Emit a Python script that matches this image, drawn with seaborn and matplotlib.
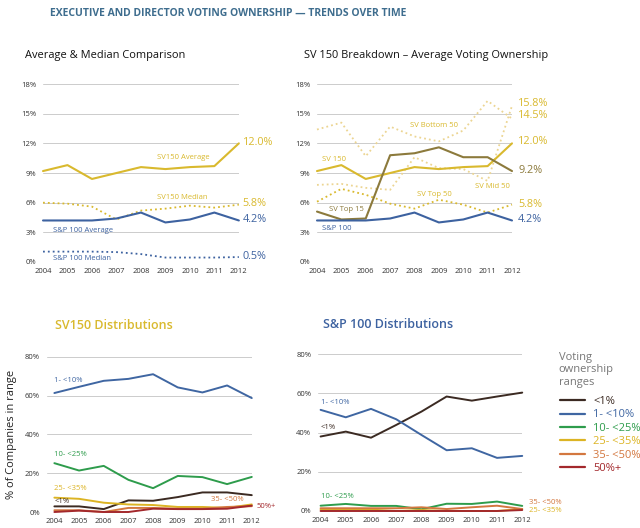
import matplotlib
matplotlib.use("Agg")
import matplotlib.pyplot as plt
import seaborn as sns
import pandas as pd
from matplotlib.lines import Line2D

years = [2004, 2005, 2006, 2007, 2008, 2009, 2010, 2011, 2012]

# top left / top right (voting ownership, %)
sv150_avg = [9.2, 9.8, 8.4, 9.0, 9.6, 9.4, 9.6, 9.7, 12.0]
sv150_med = [6.0, 5.9, 5.6, 4.3, 5.2, 5.4, 5.7, 5.5, 5.8]
sp100_avg = [4.2, 4.2, 4.2, 4.4, 5.0, 4.0, 4.3, 5.0, 4.2]
sp100_med = [1.05, 1.05, 1.05, 1.0, 0.8, 0.45, 0.45, 0.45, 0.5]
sv_top15 = [5.1, 4.3, 4.4, 10.8, 11.0, 11.6, 10.6, 10.6, 9.2]
sv_bottom50 = [13.4, 14.1, 10.7, 13.7, 12.7, 12.2, 13.3, 16.3, 14.5]
sv_mid50 = [7.8, 7.9, 7.5, 7.3, 10.6, 9.5, 9.4, 8.2, 15.8]
sv_top50 = [6.1, 7.4, 6.8, 5.9, 5.4, 6.3, 5.8, 5.0, 5.8]

# bottom: % of companies in each range
ranges = ["<1%", "1- <10%", "10- <25%", "25- <35%", "35- <50%", "50%+"]
sv150_dist = {
    "<1%": [2.9, 2.9, 1.5, 6.0, 5.8, 7.7, 10.1, 10.1, 8.7],
    "1- <10%": [61.4, 64.6, 67.7, 68.7, 71.1, 64.3, 61.7, 65.3, 58.8],
    "10- <25%": [25.2, 21.4, 23.8, 16.6, 12.3, 18.6, 18.0, 14.4, 18.1],
    "25- <35%": [7.4, 6.8, 4.8, 3.9, 3.6, 2.6, 2.6, 2.1, 3.9],
    "35- <50%": [0.9, 0.9, 0.0, 2.1, 2.1, 1.7, 1.7, 2.6, 3.0],
    "50%+": [0.0, 0.7, 0.0, 0.0, 1.7, 1.5, 1.5, 1.7, 3.3],
}
sp100_dist = {
    "<1%": [38.0, 40.5, 37.4, 43.9, 50.7, 58.4, 56.3, 58.4, 60.4],
    "1- <10%": [51.6, 47.8, 52.1, 46.8, 38.8, 31.0, 32.0, 27.1, 28.1],
    "10- <25%": [2.7, 3.6, 2.6, 2.6, 0.9, 3.7, 3.6, 4.8, 2.6],
    "25- <35%": [0.7, 0.7, 0.7, 0.0, 0.5, 0.0, 0.0, 0.0, 1.0],
    "35- <50%": [1.4, 1.4, 1.4, 1.4, 1.9, 1.0, 1.9, 2.7, 1.0],
    "50%+": [0.0, 0.0, 0.0, 0.0, 0.0, 0.0, 0.0, 0.0, 0.5],
}

GOLD = "#d9b92e"
PALE = "#ecd592"
BLUE = "#3d62a0"
OLIVE = "#8c7a3c"
TITLE_BLUE = "#3e6d8e"
range_colors = ["#3b2a22", "#3f66a2", "#2e9c4c", "#dcb424", "#d3773f", "#a3282c"]
DOT = (0, (1, 1.7))

sns.set_style("white")
plt.rcParams["font.family"] = ["Open Sans", "DejaVu Sans"]

fig = plt.figure(figsize=(6.4, 5.28), dpi=100)


def style_axes(ax, ymax, step, xlo):
    ax.set_xlim(xlo, 2012)
    ax.set_ylim(0, ymax)
    ax.set_yticks(range(0, ymax + 1, step))
    ax.set_yticklabels([f"{v}%" for v in range(0, ymax + 1, step)])
    ax.set_xticks(years)
    ax.set_xticklabels([str(y) for y in years])
    ax.tick_params(axis="both", labelsize=5.5, colors="#333333", length=0)
    ax.tick_params(axis="x", pad=4)
    ax.tick_params(axis="y", pad=5)
    ax.grid(axis="y", color="#cccccc", linewidth=0.7)
    ax.grid(axis="x", visible=False)
    for s in ax.spines.values():
        s.set_visible(False)
    ax.set_xlabel("")
    ax.set_ylabel("")
    if ax.get_legend():
        ax.get_legend().remove()


def line(ax, vals, color, ls="-", lw=1.5):
    df = pd.DataFrame({"year": years, "v": vals})
    sns.lineplot(data=df, x="year", y="v", ax=ax, color=color, linestyle=ls,
                 linewidth=lw, clip_on=False)


# ---------- top left
ax1 = fig.add_axes([0.0672, 0.5038, 0.306, 0.337])
line(ax1, sv150_avg, GOLD)
line(ax1, sv150_med, GOLD, ls=DOT, lw=1.3)
line(ax1, sp100_avg, BLUE)
line(ax1, sp100_med, BLUE, ls=DOT, lw=1.3)
style_axes(ax1, 18, 3, 2004)
ax1.text(2009.75, 10.6, "SV150 Average", color=GOLD, fontsize=5.5, ha="center", va="center")
ax1.text(2009.7, 6.5, "SV150 Median", color=GOLD, fontsize=5.5, ha="center", va="center")
ax1.text(2004.4, 3.2, "S&P 100 Average", color=BLUE, fontsize=5.5, ha="left", va="center")
ax1.text(2004.4, 0.35, "S&P 100 Median", color=BLUE, fontsize=5.5, ha="left", va="center")
for val, lab, col in [(12.1, "12.0%", GOLD), (5.9, "5.8%", GOLD), (4.3, "4.2%", BLUE), (0.6, "0.5%", BLUE)]:
    ax1.text(2012.15, val, lab, color=col, fontsize=7.8, ha="left", va="center")

# ---------- top right
ax2 = fig.add_axes([0.4953, 0.5038, 0.3047, 0.337])
line(ax2, sv_bottom50, PALE, ls=DOT, lw=1.3)
line(ax2, sv_mid50, PALE, ls=DOT, lw=1.3)
line(ax2, sv_top50, GOLD, ls=DOT, lw=1.3)
line(ax2, sv150_avg, GOLD)
line(ax2, sv_top15, OLIVE)
line(ax2, sp100_avg, BLUE)
style_axes(ax2, 18, 3, 2004)
ax2.text(2004.2, 10.4, "SV 150", color=GOLD, fontsize=5.5, ha="left", va="center")
ax2.text(2004.5, 5.3, "SV Top 15", color=OLIVE, fontsize=5.5, ha="left", va="center")
ax2.text(2004.2, 3.4, "S&P 100", color=BLUE, fontsize=5.5, ha="left", va="center")
ax2.text(2008.8, 13.8, "SV Bottom 50", color=GOLD, fontsize=5.5, ha="center", va="center")
ax2.text(2008.8, 6.85, "SV Top 50", color=GOLD, fontsize=5.5, ha="center", va="center")
ax2.text(2011.2, 7.6, "SV Mid 50", color=GOLD, fontsize=5.5, ha="center", va="center")
for val, lab, col in [(16.05, "15.8%", GOLD), (14.8, "14.5%", GOLD), (12.15, "12.0%", GOLD),
                      (9.3, "9.2%", OLIVE), (5.8, "5.8%", GOLD), (4.25, "4.2%", BLUE)]:
    ax2.text(2012.25, val, lab, color=col, fontsize=7.8, ha="left", va="center")

# ---------- bottom left
ax3 = fig.add_axes([0.0734, 0.0303, 0.320, 0.2936])
for r, c in zip(ranges, range_colors):
    line(ax3, sv150_dist[r], c, lw=1.4)
style_axes(ax3, 80, 20, 2003.7)
ax3.text(2004.0, 67.9, "1- <10%", color=range_colors[1], fontsize=5.5, va="center")
ax3.text(2004.0, 29.7, "10- <25%", color=range_colors[2], fontsize=5.5, va="center")
ax3.text(2004.0, 12.2, "25- <35%", color=range_colors[3], fontsize=5.5, va="center")
ax3.text(2004.0, 5.5, "<1%", color=range_colors[0], fontsize=5.5, va="center")
ax3.text(2011.0, 6.3, "35- <50%", color=range_colors[4], fontsize=5.5, ha="center", va="center")
ax3.text(2012.2, 2.6, "50%+", color=range_colors[5], fontsize=5.5, ha="left", va="center")
ax3.set_ylabel("% of Companies in range", fontsize=8, color="#222222", labelpad=6)

# ---------- bottom right
ax4 = fig.add_axes([0.497, 0.0322, 0.319, 0.297])
for r, c in zip(ranges, range_colors):
    line(ax4, sp100_dist[r], c, lw=1.4)
style_axes(ax4, 80, 20, 2003.9)
ax4.text(2004.0, 55.3, "1- <10%", color=range_colors[1], fontsize=5.5, va="center")
ax4.text(2004.0, 42.7, "<1%", color=range_colors[0], fontsize=5.5, va="center")
ax4.text(2004.0, 7.3, "10- <25%", color=range_colors[2], fontsize=5.5, va="center")
ax4.text(2012.25, 4.4, "35- <50%", color=range_colors[4], fontsize=5.5, ha="left", va="center")
ax4.text(2012.25, 0.2, "25- <35%", color=range_colors[3], fontsize=5.5, ha="left", va="center")

# legend
handles = [Line2D([0], [0], color=c, lw=1.6) for c in range_colors]
leg = fig.legend(handles, ranges, loc="upper left", bbox_to_anchor=(0.875, 0.25),
                 frameon=False, fontsize=8, handlelength=2.25, handletextpad=0.72,
                 labelspacing=0.22, borderaxespad=0, borderpad=0)
for t, c in zip(leg.get_texts(), range_colors):
    t.set_color(c)
fig.text(0.873, 0.333, "Voting\nownership\nranges", color="#777777", fontsize=8,
         ha="left", va="top", linespacing=1.15)

# titles
fig.text(0.078, 0.985, "EXECUTIVE AND DIRECTOR VOTING OWNERSHIP \u2014 TRENDS OVER TIME",
         color=TITLE_BLUE, fontsize=7.5, fontweight="bold", ha="left", va="top")
fig.text(0.039, 0.895, "Average & Median Comparison", color="#111111", fontsize=7.9,
         ha="left", va="center")
fig.text(0.475, 0.895, "SV 150 Breakdown \u2013 Average Voting Ownership", color="#111111",
         fontsize=7.9, ha="left", va="center")
fig.text(0.086, 0.383, "SV150 Distributions", color=GOLD, fontsize=9, fontweight="semibold",
         ha="left", va="center")
fig.text(0.505, 0.385, "S&P 100 Distributions", color=BLUE, fontsize=9, fontweight="semibold",
         ha="left", va="center")

fig.savefig("out.png", dpi=100)
